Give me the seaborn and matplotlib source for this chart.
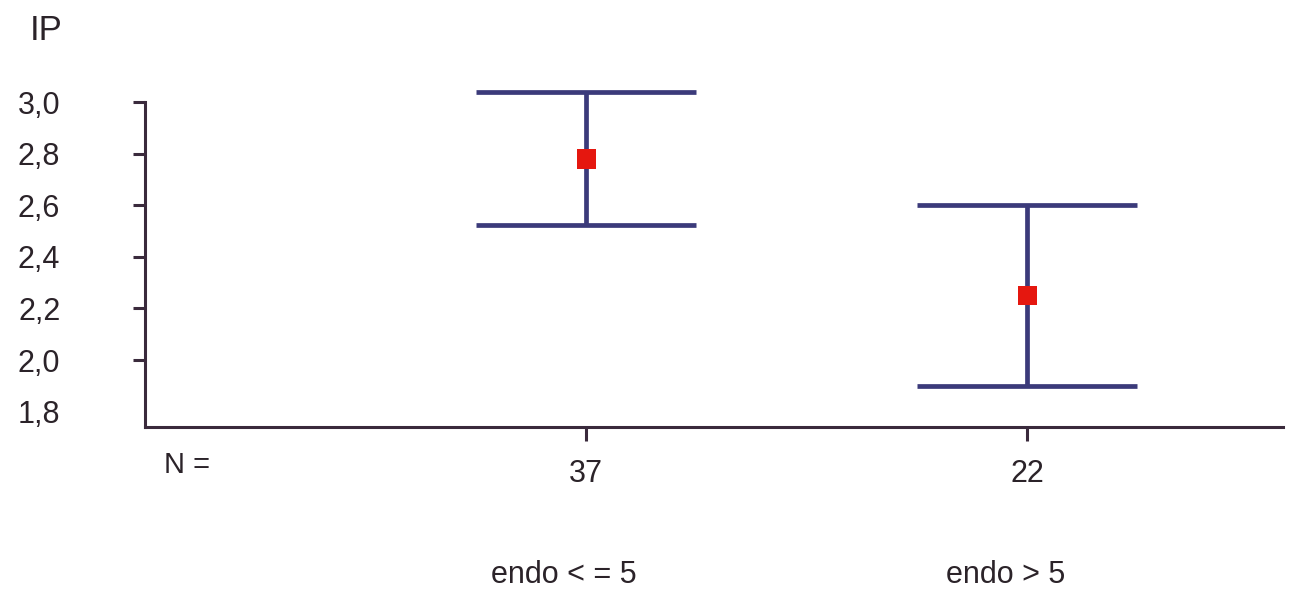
import matplotlib
matplotlib.use("Agg")
import matplotlib.pyplot as plt
import pandas as pd
import seaborn as sns

groups = ["endo < = 5", "endo > 5"]
n_values = [37, 22]
means = [2.78, 2.25]
lower = [2.525, 1.90]
upper = [3.04, 2.60]
yticks = [1.8, 2.0, 2.2, 2.4, 2.6, 2.8, 3.0]

df = pd.DataFrame({"group": groups, "n": n_values, "mean": means,
                   "lower": lower, "upper": upper})
df["pos"] = range(len(df))

sns.set_style("white")
plt.rcParams["font.family"] = ["Liberation Sans", "DejaVu Sans"]

axis_col = "#3a2a3c"
bar_col = "#3b3a7a"
text_col = "#2b2329"

fig = plt.figure(figsize=(13.03, 5.91), dpi=100)
ax = fig.add_axes([145 / 1303, 1 - 427 / 591, (1283 - 145) / 1303, (427 - 74) / 591])

# confidence interval bars
ax.vlines(df["pos"], df["lower"], df["upper"], color=bar_col, lw=3.4, zorder=2)
ax.hlines(df["upper"], df["pos"] - 0.25, df["pos"] + 0.25, color=bar_col, lw=3.4, zorder=2)
ax.hlines(df["lower"], df["pos"] - 0.25, df["pos"] + 0.25, color=bar_col, lw=3.4, zorder=2)

# means
sns.scatterplot(data=df, x="pos", y="mean", marker="s", s=190, color="#e5170f",
                edgecolor="none", zorder=3, ax=ax, legend=False)

ax.set_xlim(-1.0, 1.58)
ax.set_ylim(1.74, 3.11)
ax.set_xlabel("")
ax.set_ylabel("")

for side in ["top", "right"]:
    ax.spines[side].set_visible(False)
ax.spines["left"].set_bounds(1.74, 3.0)
for side in ["left", "bottom"]:
    ax.spines[side].set_color(axis_col)
    ax.spines[side].set_linewidth(2.2)

ax.set_yticks(yticks)
ax.set_yticklabels([f"{v:.1f}".replace(".", ",") for v in yticks])
ax.tick_params(axis="y", left=True, length=9, width=2.2, color=axis_col, pad=52,
               labelsize=22, labelcolor=text_col)
ax.yaxis.get_major_ticks()[0].tick1line.set_visible(False)

ax.set_xticks(df["pos"])
ax.set_xticklabels([str(v) for v in n_values])
ax.tick_params(axis="x", bottom=True, length=10, width=2.2, color=axis_col, pad=13,
               labelsize=22, labelcolor=text_col)

# group names below the counts
for p, g in zip(df["pos"], groups):
    ax.annotate(g, xy=(p, 0), xycoords=("data", "axes fraction"),
                xytext=(-22, -148), textcoords="offset pixels",
                ha="center", va="center", fontsize=22, color=text_col)

ax.annotate("N =", xy=(0, 0), xycoords="axes fraction", xytext=(19, -38),
            textcoords="offset pixels", ha="left", va="center",
            fontsize=21, color=text_col)

fig.text(30 / 1303, 1 - 30 / 591, "IP", fontsize=25, color=text_col,
         ha="left", va="center")

fig.savefig("out.png", dpi=100)
